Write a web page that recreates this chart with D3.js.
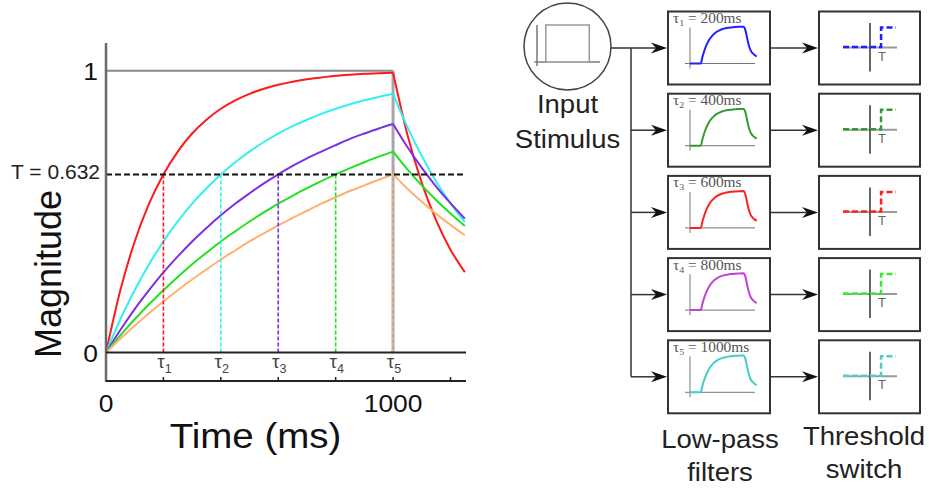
<!DOCTYPE html>
<html><head><meta charset="utf-8">
<script src="https://cdn.jsdelivr.net/npm/d3@7"></script>
<style>body{margin:0;background:#fff} svg{display:block}</style>
</head><body>
<svg id="c" width="929" height="488"></svg>
<script>
// ---------- data ----------
const timesMs = [0,50,100,150,200,250,300,350,400,450,500,550,600,650,700,750,800,850,900,950,1000,1050,1100,1150,1200,1250];
const seriesRed    = [0,.221,.394,.528,.632,.713,.777,.826,.865,.895,.918,.936,.950,.961,.970,.976,.982,.986,.989,.991,.993,.773,.602,.469,.365,.285];
const seriesCyan   = [0,.118,.221,.313,.394,.465,.528,.583,.632,.675,.713,.747,.777,.803,.826,.847,.865,.881,.895,.907,.918,.800,.697,.607,.529,.463];
const seriesPurple = [0,.080,.154,.221,.284,.341,.394,.442,.487,.528,.565,.600,.632,.662,.689,.713,.736,.758,.777,.795,.811,.729,.655,.589,.530,.475];
const seriesGreen  = [0,.061,.118,.171,.221,.268,.313,.354,.394,.430,.465,.497,.528,.556,.583,.608,.632,.654,.675,.695,.713,.650,.593,.541,.493,.449];
const seriesOrange = [0,.049,.095,.139,.181,.221,.259,.295,.330,.362,.394,.423,.451,.478,.503,.528,.551,.573,.593,.613,.632,.581,.535,.492,.453,.416];
const tauValues = [200,400,600,800,1000];
const tauSubs = ["1","2","3","4","5"];
const bottomTicks = [200,400,600,800,1000,1200];
const xTickLabels = [0,1000];
const yTickLabels = [0,1];
const threshold = 0.632;
const stimOff = 1000;

const filterLabels = ["200ms","400ms","600ms","800ms","1000ms"];
const miniT = [0,16,18,20,24,28,32,36,40,44,48,52,56,60,66,72,79,81,83,85,87,89,92,95,98];
const miniV = [0,0,.154,.283,.487,.632,.736,.811,.865,.903,.931,.950,.964,.974,.985,.991,.995,.93,.78,.60,.46,.36,.28,.23,.19];
const stepIn  = [-1,0.41,0.41,0.96];
const stepOut = [0,0,1,1];
const pulseX = [0,.14,.14,.83,.83,1];
const pulseY = [0,0,1,1,0,0];

const curveColors = ["#ff1a1a","#33f0f0","#7b2fe6","#22e022","#ffb070"];
const filterColors = ["#2020ff","#359a35","#ff2020","#c63fd6","#44cccc"];
const switchColors = ["#2020ff","#359a35","#ff2020","#33ee33","#55cccc"];

// ---------- setup ----------
const svg = d3.select('#c');
const SANS = "Liberation Sans, Arial, Helvetica, sans-serif";
const SERIF = "Liberation Serif, Times New Roman, serif";
function label(parent, px, py, str, size, anchor, sx, color, family){
  return parent.append('text')
    .attr('transform',`translate(${px},${py}) scale(${sx},1)`)
    .attr('text-anchor',anchor).attr('font-size',size)
    .attr('fill',color||'#111').attr('font-family',family||SANS).text(str);
}

const x = d3.scaleLinear().domain([0,1254]).range([106,466]);
const y = d3.scaleLinear().domain([0,1]).range([352.5,70.7]);
const yAxisTop = 43, bottomAxisY = 381;

// gray guide lines
svg.append('line').attr('x1',x(0)).attr('x2',x(stimOff)).attr('y1',y(1)).attr('y2',y(1))
  .attr('stroke','#8a8a8a').attr('stroke-width',2);
svg.append('line').attr('x1',x(stimOff)).attr('x2',x(stimOff)).attr('y1',y(1)).attr('y2',y(0))
  .attr('stroke','#a8a8a8').attr('stroke-width',3);

// curves
const allSeries = [seriesRed,seriesCyan,seriesPurple,seriesGreen,seriesOrange];
const line = d3.line().x(d=>x(d[0])).y(d=>y(d[1])).curve(d3.curveMonotoneX);
const iOff = timesMs.indexOf(stimOff);
allSeries.forEach((s,k)=>{
  const pts = timesMs.map((t,i)=>[t,s[i]]);
  [pts.slice(0,iOff+1), pts.slice(iOff)].forEach(seg=>{
    svg.append('path').attr('d',line(seg)).attr('fill','none')
      .attr('stroke',curveColors[k]).attr('stroke-width',2);
  });
});

// tau dashed verticals
tauValues.forEach((t,k)=>{
  svg.append('line').attr('x1',x(t)).attr('x2',x(t)).attr('y1',y(threshold)).attr('y2',y(0))
    .attr('stroke',curveColors[k]).attr('stroke-width',1.6).attr('stroke-dasharray','4,2');
});

// threshold line
svg.append('line').attr('x1',x(0)).attr('x2',x(1254)).attr('y1',y(threshold)).attr('y2',y(threshold))
  .attr('stroke','#111').attr('stroke-width',2).attr('stroke-dasharray','6,3');
label(svg, 100, y(threshold)+5, "T = " + threshold, 20, 'end', 1.05, '#222');

// axes
svg.append('line').attr('x1',x(0)).attr('x2',x(0)).attr('y1',yAxisTop).attr('y2',bottomAxisY+1)
  .attr('stroke','#6a6a6a').attr('stroke-width',2.5);
svg.append('line').attr('x1',x(0)).attr('x2',x(1254)).attr('y1',y(0)).attr('y2',y(0))
  .attr('stroke','#222').attr('stroke-width',2);
svg.append('line').attr('x1',x(0)).attr('x2',x(1254)).attr('y1',bottomAxisY).attr('y2',bottomAxisY)
  .attr('stroke','#222').attr('stroke-width',2);
bottomTicks.forEach(t=>{
  svg.append('line').attr('x1',x(t)).attr('x2',x(t)).attr('y1',bottomAxisY).attr('y2',bottomAxisY-4)
    .attr('stroke','#222').attr('stroke-width',1.5);
});
// tau labels
tauValues.forEach((t,k)=>{
  const tx = svg.append('text').attr('transform',`translate(${x(t)+1},368) scale(1.05,1)`)
    .attr('text-anchor','middle').attr('font-family',SANS).attr('fill','#444').attr('font-size',18);
  tx.append('tspan').text('τ');
  tx.append('tspan').attr('font-size',12).attr('dy',5).text(tauSubs[k]);
});
xTickLabels.forEach(v=> label(svg, x(v), 412, String(v), 24, 'middle', 1.1, '#111'));
yTickLabels.forEach(v=> label(svg, 98, y(v)+9.5, String(v), 24, 'end', 1.1, '#111'));
label(svg, 255.5, 448, "Time (ms)", 35, 'middle', 1.1, '#111');
svg.append('text').attr('transform','translate(61,274) rotate(-90)').attr('text-anchor','middle')
  .attr('font-family',SANS).attr('font-size',36).attr('fill','#111').text('Magnitude');

// ---------- right diagram ----------
const DK = '#333';
function arrowH(x1,x2,yy){
  svg.append('line').attr('x1',x1).attr('x2',x2-8).attr('y1',yy).attr('y2',yy)
    .attr('stroke',DK).attr('stroke-width',1.5);
  svg.append('path').attr('d',`M${x2},${yy} L${x2-16},${yy-5.5} L${x2-11},${yy} L${x2-16},${yy+5.5} Z`)
    .attr('fill','#111');
}
// stimulus circle
const cx = 567.5, cy = 46.5;
svg.append('circle').attr('cx',cx).attr('cy',cy).attr('r',43.5).attr('fill','#fff')
  .attr('stroke','#444').attr('stroke-width',1.5);
const px = d3.scaleLinear().domain([0,1]).range([537,600]);
const py = d3.scaleLinear().domain([0,1]).range([62,25]);
svg.append('line').attr('x1',537).attr('x2',537).attr('y1',25).attr('y2',66).attr('stroke','#555').attr('stroke-width',1.2);
svg.append('line').attr('x1',534).attr('x2',600).attr('y1',62).attr('y2',62).attr('stroke','#555').attr('stroke-width',1.2);
svg.append('path').attr('d',d3.line().x((d,i)=>px(d)).y((d,i)=>py(pulseY[i]))(pulseX))
  .attr('fill','none').attr('stroke','#999').attr('stroke-width',1.5);
label(svg, cx, 113, "Input", 25, 'middle', 1.1, '#222');
label(svg, cx, 148, "Stimulus", 25, 'middle', 1.1, '#222');

const boxTop = i => 11.5 + i*82.2;
const BH = 73;
const FX = 668, FW = 102, SX = 819, SW = 101, trunkX = 631;
const boxCY = i => boxTop(i) + BH/2;

// trunk
svg.append('line').attr('x1',cx+43.5).attr('x2',trunkX).attr('y1',boxCY(0)).attr('y2',boxCY(0)).attr('stroke',DK).attr('stroke-width',1.5);
svg.append('line').attr('x1',trunkX).attr('x2',trunkX).attr('y1',boxCY(0)).attr('y2',boxCY(4)).attr('stroke',DK).attr('stroke-width',1.5);

filterLabels.forEach((lab,i)=>{
  const top = boxTop(i), mid = boxCY(i);
  arrowH(trunkX, FX-1, mid);
  arrowH(FX+FW, SX-1, mid);
  // filter box
  const g = svg.append('g').attr('transform',`translate(${FX},${top})`);
  g.append('rect').attr('width',FW).attr('height',BH).attr('fill','#fff').attr('stroke',DK).attr('stroke-width',2);
  const mx = d3.scaleLinear().domain([0,100]).range([22,90]);
  const my = d3.scaleLinear().domain([0,1]).range([52,15]);
  g.append('line').attr('x1',mx(0)).attr('x2',mx(0)).attr('y1',16).attr('y2',57).attr('stroke','#777').attr('stroke-width',1);
  g.append('line').attr('x1',17).attr('x2',87).attr('y1',my(0)).attr('y2',my(0)).attr('stroke','#777').attr('stroke-width',1);
  g.append('path').attr('d',d3.line().x((d,j)=>mx(d)).y((d,j)=>my(miniV[j])).curve(d3.curveMonotoneX)(miniT))
    .attr('fill','none').attr('stroke',filterColors[i]).attr('stroke-width',2);
  const t = g.append('text').attr('transform','translate(5,11.5) scale(1.1,1)')
    .attr('font-family',SERIF).attr('font-size',14).attr('fill','#555');
  t.append('tspan').text('τ');
  t.append('tspan').attr('font-size',9).attr('dy',3).text(tauSubs[i]);
  t.append('tspan').attr('dy',-3).text(' = ' + lab);
  // switch box
  const s = svg.append('g').attr('transform',`translate(${SX},${top})`);
  s.append('rect').attr('width',SW).attr('height',BH).attr('fill','#fff').attr('stroke',DK).attr('stroke-width',2);
  const sx = d3.scaleLinear().domain([-1,1]).range([24,78]);
  const sy = d3.scaleLinear().domain([0,1]).range([35.5,16]);
  s.append('line').attr('x1',sx(-1)).attr('x2',sx(1)).attr('y1',36).attr('y2',36).attr('stroke','#999').attr('stroke-width',2);
  s.append('line').attr('x1',sx(0)).attr('x2',sx(0)).attr('y1',11.5).attr('y2',60).attr('stroke','#333').attr('stroke-width',1.5);
  s.append('path').attr('d',d3.line().x((d,j)=>sx(d)).y((d,j)=>sy(stepOut[j]))(stepIn))
    .attr('fill','none').attr('stroke',switchColors[i]).attr('stroke-width',2.5).attr('stroke-dasharray','6,3');
  s.append('text').attr('x',sx(stepIn[1])+1).attr('y',49).attr('text-anchor','middle')
    .attr('font-family',SANS).attr('font-size',13).attr('fill','#666').text('T');
});

label(svg, 720, 448, "Low-pass", 25, 'middle', 1.1, '#222');
label(svg, 720, 481, "filters", 25, 'middle', 1.1, '#222');
label(svg, 864, 445, "Threshold", 25, 'middle', 1.1, '#222');
label(svg, 864, 478, "switch", 25, 'middle', 1.1, '#222');
</script>
</body></html>
